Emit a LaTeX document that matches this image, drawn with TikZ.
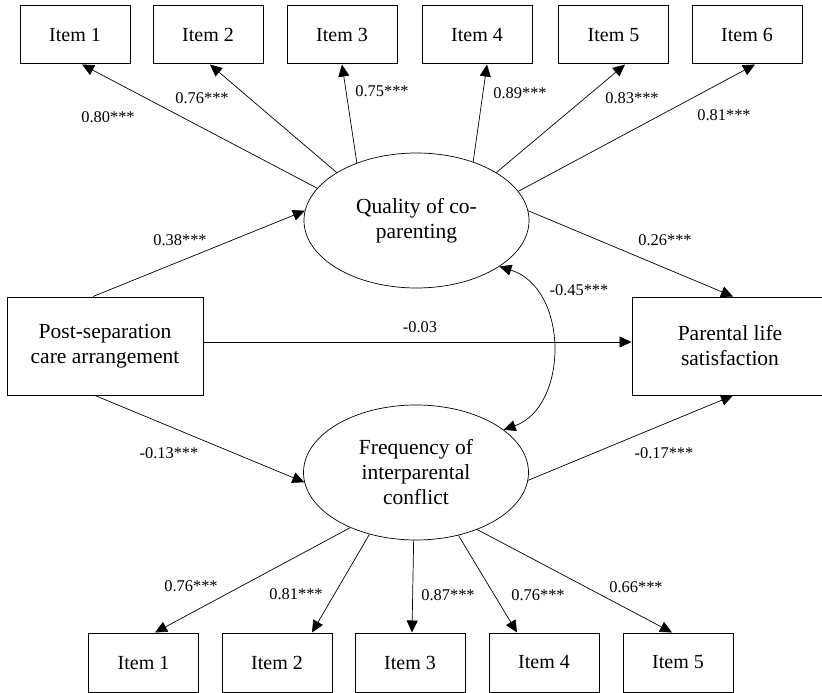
\documentclass[tikz,border=0pt]{standalone}
\usepackage{fontspec}
\setmainfont{Liberation Serif}
\usetikzlibrary{shapes.geometric,arrows.meta,calc}
\begin{document}
\begin{tikzpicture}[x=1pt,y=-1pt,
  itembox/.style={draw, line width=1pt, minimum width=110pt, minimum height=58pt, inner sep=0pt, font=\fontsize{20}{24}\selectfont},
  bigbox/.style={draw, line width=1pt, minimum width=196pt, minimum height=98pt, inner sep=0pt, align=center, font=\fontsize{21.5}{25}\selectfont},
  latent/.style={draw, ellipse, line width=0.7pt, minimum width=225pt, minimum height=135pt, inner sep=0pt, align=center, font=\fontsize{21.5}{25}\selectfont},
  arr/.style={-{Triangle[length=12pt,width=11pt]}, line width=0.7pt},
  dbl/.style={{Triangle[length=12pt,width=11pt]}-{Triangle[length=12pt,width=11pt]}, line width=0.7pt},
  lab/.style={font=\fontsize{16.4}{18}\selectfont, inner sep=0pt}
]
\useasboundingbox (0,0) rectangle (822,693);
\clip (0,0) rectangle (822,693);

% top indicator boxes
\node[itembox] (t1) at (75,35) {Item 1};
\node[itembox] (t2) at (208,35) {Item 2};
\node[itembox] (t3) at (342,35) {Item 3};
\node[itembox] (t4) at (477,35) {Item 4};
\node[itembox] (t5) at (613.5,35) {Item 5};
\node[itembox] (t6) at (747,35) {Item 6};

% bottom indicator boxes
\node[itembox, minimum height=59pt] (b1) at (143.5,662.5) {Item 1};
\node[itembox, minimum height=59pt] (b2) at (277,662.5) {Item 2};
\node[itembox, minimum height=59pt] (b3) at (410,662.5) {Item 3};
\node[itembox, minimum height=59pt] (b4) at (544,662.5) {Item 4};
\node[itembox, minimum height=59pt] (b5) at (678,662.5) {Item 5};

% latent variables
\node[latent] (Q) at (416.5,220.5) {Quality of co-\\parenting};
\node[latent] (F) at (416,472.5) {Frequency of\\interparental\\conflict};

% observed variables
\node[bigbox] (P) at (105,346) {Post-separation\\care arrangement};
\node[bigbox] (L) at (730,346) {Parental life\\satisfaction};

% loadings of Q
\draw[arr] (Q.162.2) -- ($(t1.south)+(7,0)$);
\draw[arr] (Q.149.2) -- ($(t2.south)+(2,0)$);
\draw[arr] (Q.136.9) -- (t3.south);
\draw[arr] (Q.46.5) -- ($(t4.south)+(10,0)$);
\draw[arr] (Q.31.1) -- ($(t5.south)+(11.5,0)$);
\draw[arr] (Q.16.7) -- ($(t6.south)+(8,0)$);

% loadings of F
\draw[arr] (F.220.9) -- ($(b1.north)+(11.5,0)$);
\draw[arr] (F.233.2) -- ($(b2.north)+(35,0)$);
\draw[arr] (F.268) -- ($(b3.north)+(2,0)$);
\draw[arr] (F.-56.7) -- ($(b4.north)+(-27,0)$);
\draw[arr] (F.-43.8) -- ($(b5.north)+(-6,0)$);

% structural paths
\draw[arr] ($(P.north)+(-12,0)$) -- (Q.175);
\draw[arr] ($(P.south)+(-10,0)$) -- (F.185);
\draw[arr] ($(P.east)+(0,-4)$) -- ($(L.west)+(0,-4)$);
\draw[arr] (Q.5.4) -- ($(L.north)+(3,0)$);
\draw[arr] (F.-4.9) -- ($(L.south)+(3,0)$);
\draw[dbl] (Q.-29.6) .. controls +(70,22) and +(65,-23) .. (F.26.6);

% labels
\node[lab] (l1) at (108,117) {0.80***};
\node[lab] (l2) at (202,98) {0.76***};
\node[lab] (l3) at (382,91) {0.75***};
\node[lab] (l4) at (520,93) {0.89***};
\node[lab] (l5) at (632,98) {0.83***};
\node[lab] (l6) at (724,115) {0.81***};
\node[lab] (lpq) at (180,240) {0.38***};
\node[lab] (lpf) at (169,453) {-0.13***};
\node[lab] (lql) at (665,240) {0.26***};
\node[lab] (lqf) at (579,290) {-0.45***};
\node[lab] (lfl) at (664,453) {-0.17***};
\node[lab] (lpl) at (420,327) {-0.03};
\node[lab] (m1) at (191,586) {0.76***};
\node[lab] (m2) at (296,594) {0.81***};
\node[lab] (m3) at (448,595) {0.87***};
\node[lab] (m4) at (538,595) {0.76***};
\node[lab] (m5) at (636,587) {0.66***};
\end{tikzpicture}
\end{document}
